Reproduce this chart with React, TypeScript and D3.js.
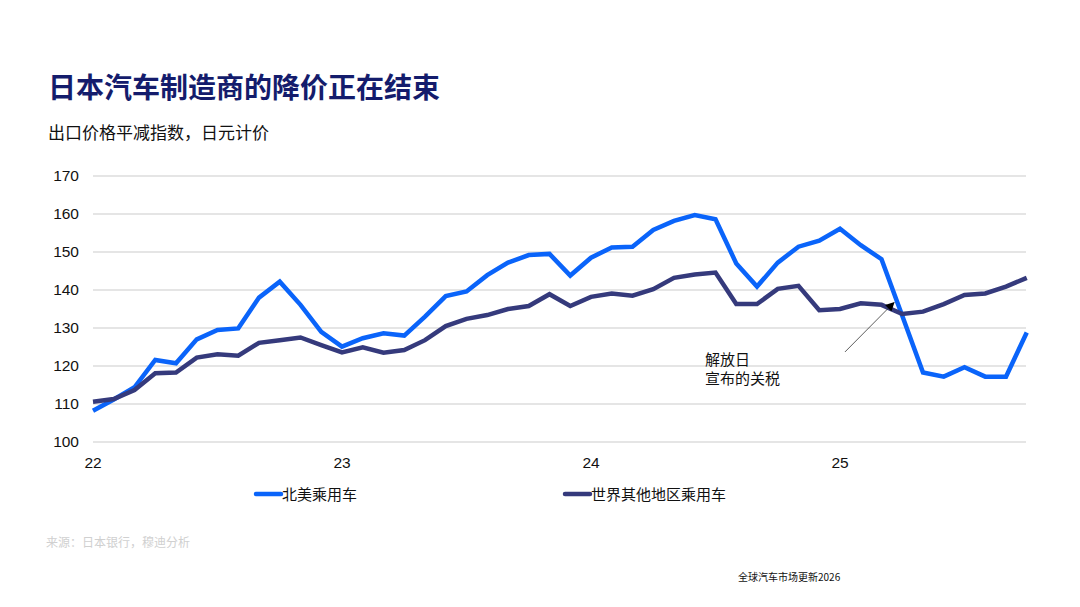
import React from "react";
import * as d3 from "d3";

const months: string[] = (() => {
  const out: string[] = [];
  for (let y = 22; y <= 25; y++) for (let m = 1; m <= 12; m++) out.push(`${y}-${m}`);
  return out.slice(0, 46);
})();

const northAmerica: number[] = [
  108.2, 111.2, 114.4, 121.6, 120.7, 127.0, 129.5, 129.9, 138.0, 142.2, 136.1, 129.0,
  125.1, 127.3, 128.6, 128.0, 133.0, 138.4, 139.6, 143.9, 147.2, 149.2, 149.5, 143.8,
  148.5, 151.2, 151.4, 155.8, 158.2, 159.7, 158.6, 147.0, 140.9, 147.2, 151.4, 153.0,
  156.1, 151.8, 148.1, 133.2, 118.3, 117.2, 119.7, 117.2, 117.2, 128.8,
];

const restOfWorld: number[] = [
  110.6, 111.3, 113.7, 118.1, 118.3, 122.2, 123.1, 122.7, 126.1, 126.8, 127.5, 125.5,
  123.6, 124.9, 123.5, 124.2, 126.8, 130.5, 132.4, 133.4, 135.0, 135.8, 138.9, 135.8,
  138.2, 139.1, 138.5, 140.2, 143.2, 144.1, 144.6, 136.3, 136.3, 140.3, 141.1, 134.7,
  135.0, 136.5, 136.1, 133.7, 134.3, 136.3, 138.7, 139.1, 140.9, 143.2,
];

const yTicks: number[] = [100, 110, 120, 130, 140, 150, 160, 170];
const xTickIndex: number[] = [0, 12, 24, 36];
const xTickLabels: string[] = ["22", "23", "24", "25"];

const seriesNames: string[] = ["北美乘用车", "世界其他地区乘用车"];
const seriesColors: string[] = ["#0a64fa", "#353a7c"];

const title = "日本汽车制造商的降价正在结束";
const subtitle = "出口价格平减指数，日元计价";
const annotationLines: string[] = ["解放日", "宣布的关税"];
const annotationFrom: [number, number] = [36.24, 123.7];
const annotationTo: [number, number] = [38.6, 136.7];
const source = "来源：日本银行，穆迪分析";
const footer = "全球汽车市场更新2026";

const W = 1080;
const H = 607;
const cjk = "'Noto Sans CJK SC', 'Noto Sans', sans-serif";
const latin = "'Liberation Sans', Arial, sans-serif";

export default function App() {
  const x = d3.scaleLinear().domain([0, 45]).range([93, 1026.75]);
  const y = d3.scaleLinear().domain([100, 170]).range([442, 176]);
  const line = d3
    .line<number>()
    .x((_, i) => x(i))
    .y((d) => y(d));

  const series = [northAmerica, restOfWorld];

  const [ax0, ay0] = [x(annotationFrom[0]), y(annotationFrom[1])];
  const [ax1, ay1] = [x(annotationTo[0]), y(annotationTo[1])];

  return (
    <svg
      width={W}
      height={H}
      style={{ position: "absolute", left: 0, top: 0, background: "#fff" }}
    >
      <defs>
        <marker
          id="arrow"
          viewBox="0 0 10 10"
          refX="9"
          refY="5"
          markerWidth="9"
          markerHeight="9"
          markerUnits="userSpaceOnUse"
          orient="auto"
        >
          <path d="M0,0 L10,5 L0,10 z" fill="#000" />
        </marker>
      </defs>
      <text x={48} y={98} fontFamily={cjk} fontWeight={700} fontSize={28} fill="#141c6c">
        {title}
      </text>
      <text x={48} y={139} fontFamily={cjk} fontSize={17} fill="#111">
        {subtitle}
      </text>

      {yTicks.map((t) => (
        <g key={t}>
          <line x1={x(0)} x2={1026} y1={y(t)} y2={y(t)} stroke="#dcdcdc" strokeWidth={1.5} />
          <text
            x={79}
            y={y(t)}
            dy="0.35em"
            textAnchor="end"
            fontFamily={latin}
            fontSize={15.5}
            fill="#111"
          >
            {t}
          </text>
        </g>
      ))}
      {xTickIndex.map((t, i) => (
        <text
          key={t}
          x={x(t)}
          y={468}
          textAnchor="middle"
          fontFamily={latin}
          fontSize={15.5}
          fill="#111"
        >
          {xTickLabels[i]}
        </text>
      ))}

      {series.map((s, i) => (
        <path
          key={seriesNames[i]}
          d={line(s) || ""}
          fill="none"
          stroke={seriesColors[i]}
          strokeWidth={4.5}
          strokeLinejoin="miter"
          strokeLinecap="butt"
        />
      ))}

      <line
        x1={ax0}
        y1={ay0}
        x2={ax1}
        y2={ay1}
        stroke="#333"
        strokeWidth={0.8}
        markerEnd="url(#arrow)"
      />
      {annotationLines.map((l, i) => (
        <text key={l} x={705} y={365 + i * 19} fontFamily={cjk} fontSize={15} fill="#111">
          {l}
        </text>
      ))}

      {seriesNames.map((n, i) => {
        const lx = [256, 565][i];
        return (
          <g key={n}>
            <line
              x1={lx}
              x2={lx + 25}
              y1={494}
              y2={494}
              stroke={seriesColors[i]}
              strokeWidth={4.5}
              strokeLinecap="round"
            />
            <text x={lx + 26} y={499.5} fontFamily={cjk} fontSize={15} fill="#111">
              {n}
            </text>
          </g>
        );
      })}

      <text x={46} y={547} fontFamily={cjk} fontSize={12} fill="#d0d0d0">
        {source}
      </text>
      <text x={738} y={581} fontFamily={cjk} fontSize={10} fill="#111">
        {footer}
      </text>
    </svg>
  );
}
